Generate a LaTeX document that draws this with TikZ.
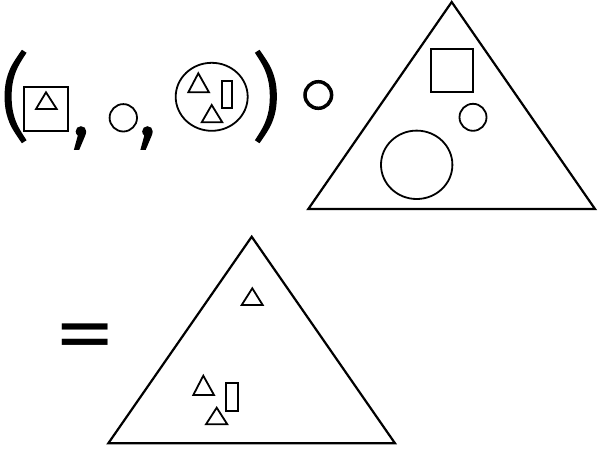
\documentclass[tikz,border=0pt]{standalone}
\usepackage{fontspec}
\setmainfont{Liberation Sans}
\newfontfamily\symfont{Fira Sans Light}[FakeBold=1.5]

\begin{document}
\begin{tikzpicture}[
  x=1pt, y=-1pt,
  outer/.style={draw, line width=2.2pt},
  piece/.style={draw, line width=1.8pt},
  sym/.style={inner sep=0pt, font=\symfont\fontsize{94}{94}\selectfont},
  eqsign/.style={inner sep=0pt, font=\bfseries\fontsize{57}{57}\selectfont},
]
  \useasboundingbox (0,0) rectangle (598,448);

  % the tuple
  \node[sym, anchor=west] (lpar) at (0,96.5) {(};
  \node[sym] (rpar) at (266,96.5) {)};
  \node[sym] (comma1) at (81,138) {,};
  \node[sym] (comma2) at (147.5,138) {,};

  \draw[piece] (24.3,87.3) rectangle (67.7,131);
  \draw[piece] (36,109) -- (46,92.3) -- (56.7,109) -- cycle;

  \draw[piece] (123.3,117.8) circle[radius=13.7pt];

  \draw[piece] (211.7,96.8) circle[x radius=36pt, y radius=34pt];
  \draw[piece] (188.3,92.3) -- (198.3,73.3) -- (209,92.3) -- cycle;
  \draw[piece] (221.7,80.7) rectangle (232.3,107.7);
  \draw[piece] (201.7,122.3) -- (211.7,105) -- (222.3,122.3) -- cycle;

  % composition
  \draw[line width=3.5pt] (318.3,95) circle[radius=13.3pt];

  % outer tree
  \draw[outer] (308.3,209) -- (451.7,2) -- (595,209) -- cycle;
  \draw[piece] (430.7,49) rectangle (473,92.3);
  \draw[piece] (473,117.3) circle[radius=13.5pt];
  \draw[piece] (416.7,164.8) circle[x radius=35.7pt, y radius=34.2pt];

  % result
  \node[eqsign] (eq) at (85,338.5) {\scalebox{1.6}[1]{=}};

  \draw[outer] (108.3,443.3) -- (251.7,236.7) -- (395,443.3) -- cycle;
  \draw[piece] (241.7,305) -- (252.3,288.3) -- (262.7,305) -- cycle;
  \draw[piece] (193.3,395) -- (203.3,375.7) -- (214,395) -- cycle;
  \draw[piece] (226.3,383.3) rectangle (237.7,411);
  \draw[piece] (206,424.3) -- (216.7,407.7) -- (227.3,424.3) -- cycle;
\end{tikzpicture}
\end{document}
